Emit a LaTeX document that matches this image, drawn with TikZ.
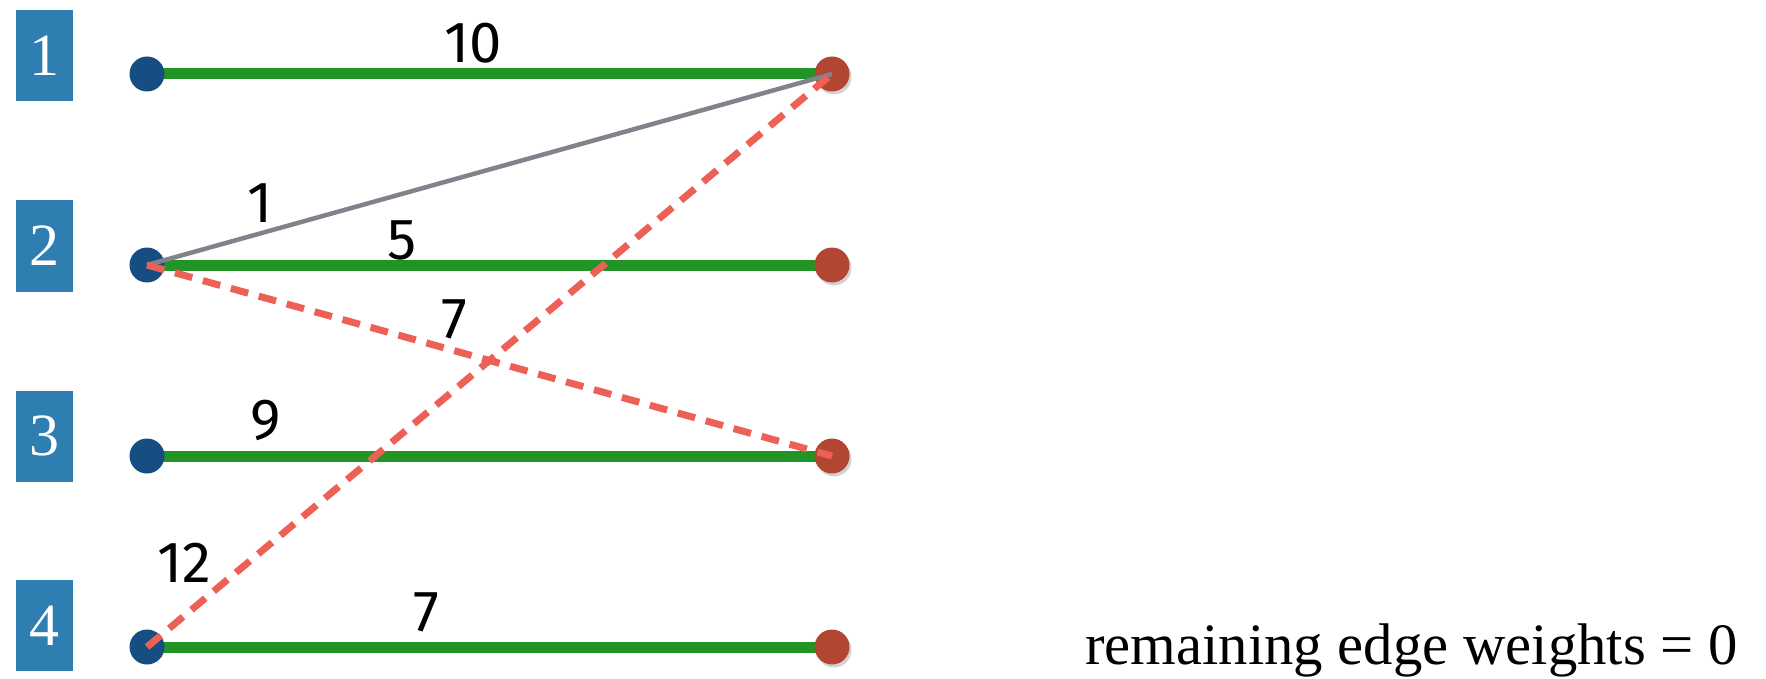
\documentclass[tikz,border=0pt]{standalone}
\usepackage{fontspec}
\setmainfont{Liberation Serif}
\newfontfamily\hand{Fira Sans}
\usetikzlibrary{shadows}
\definecolor{boxblue}{RGB}{46,126,178}
\definecolor{dotblue}{RGB}{22,77,130}
\definecolor{dotred}{RGB}{178,70,50}
\definecolor{chalkgreen}{RGB}{32,148,36}
\definecolor{edgegray}{RGB}{128,132,138}
\definecolor{dashred}{RGB}{236,96,86}
\tikzset{
  numbox/.style={fill=boxblue, minimum width=57pt, minimum height=91pt, inner sep=0pt,
    text=white, font=\fontsize{60}{60}\selectfont},
  ldot/.style={circle, fill=dotblue, minimum size=35pt, inner sep=0pt},
  rdot/.style={circle, fill=dotred, minimum size=35pt, inner sep=0pt,
    drop shadow={opacity=0.35, shadow xshift=2pt, shadow yshift=-3pt}},
  greenedge/.style={draw=chalkgreen, line width=11pt},
  grayedge/.style={draw=edgegray, line width=4.5pt},
  rededge/.style={draw=dashred, line width=7pt, dash pattern=on 18pt off 11pt},
  wlabel/.style={font=\hand\fontsize{58}{58}\selectfont, inner sep=0pt}
}
\begin{document}
\begin{tikzpicture}[x=1pt,y=-1pt]
\useasboundingbox (0,0) rectangle (1766,679);
% boxes
\node[numbox] (b1) at (44.5,55.5) {1};
\node[numbox] (b2) at (44.5,246) {2};
\node[numbox] (b3) at (44.5,436) {3};
\node[numbox] (b4) at (44.5,625.5) {4};
% green edges (under dots)
\coordinate (L1) at (147,74);
\coordinate (L2) at (147,265);
\coordinate (L3) at (147,456);
\coordinate (L4) at (147,647);
\coordinate (R1) at (832,74);
\coordinate (R2) at (832,265);
\coordinate (R3) at (832,456);
\coordinate (R4) at (832,647);
\draw[greenedge] (L1) -- (R1);
\draw[greenedge] (L2) -- (R2);
\draw[greenedge] (L3) -- (R3);
\draw[greenedge] (L4) -- (R4);
% dots
\node[ldot] (l1) at (L1) {};
\node[ldot] (l2) at (L2) {};
\node[ldot] (l3) at (L3) {};
\node[ldot] (l4) at (L4) {};
\node[rdot] (r1) at (R1) {};
\node[rdot] (r2) at (R2) {};
\node[rdot] (r3) at (R3) {};
\node[rdot] (r4) at (R4) {};
% other edges
\draw[grayedge] (l2.center) -- (r1.center);
\draw[rededge] (l2.center) -- (r3.center);
\draw[rededge] (l4.center) -- (r1.center);
% weights
\node[wlabel] (w10) at (473,43) {10};
\node[wlabel] (w1) at (260,203) {1};
\node[wlabel] (w5) at (402,240) {5};
\node[wlabel] (w7a) at (454,319) {7};
\node[wlabel] (w9) at (266,420) {9};
\node[wlabel] (w12) at (184,563) {12};
\node[wlabel] (w7b) at (426,612) {7};
% note
\node[anchor=base west, inner sep=0pt, font=\fontsize{58.7}{58.7}\selectfont] (note) at (1085,664) {remaining edge weights = 0};
\end{tikzpicture}
\end{document}
